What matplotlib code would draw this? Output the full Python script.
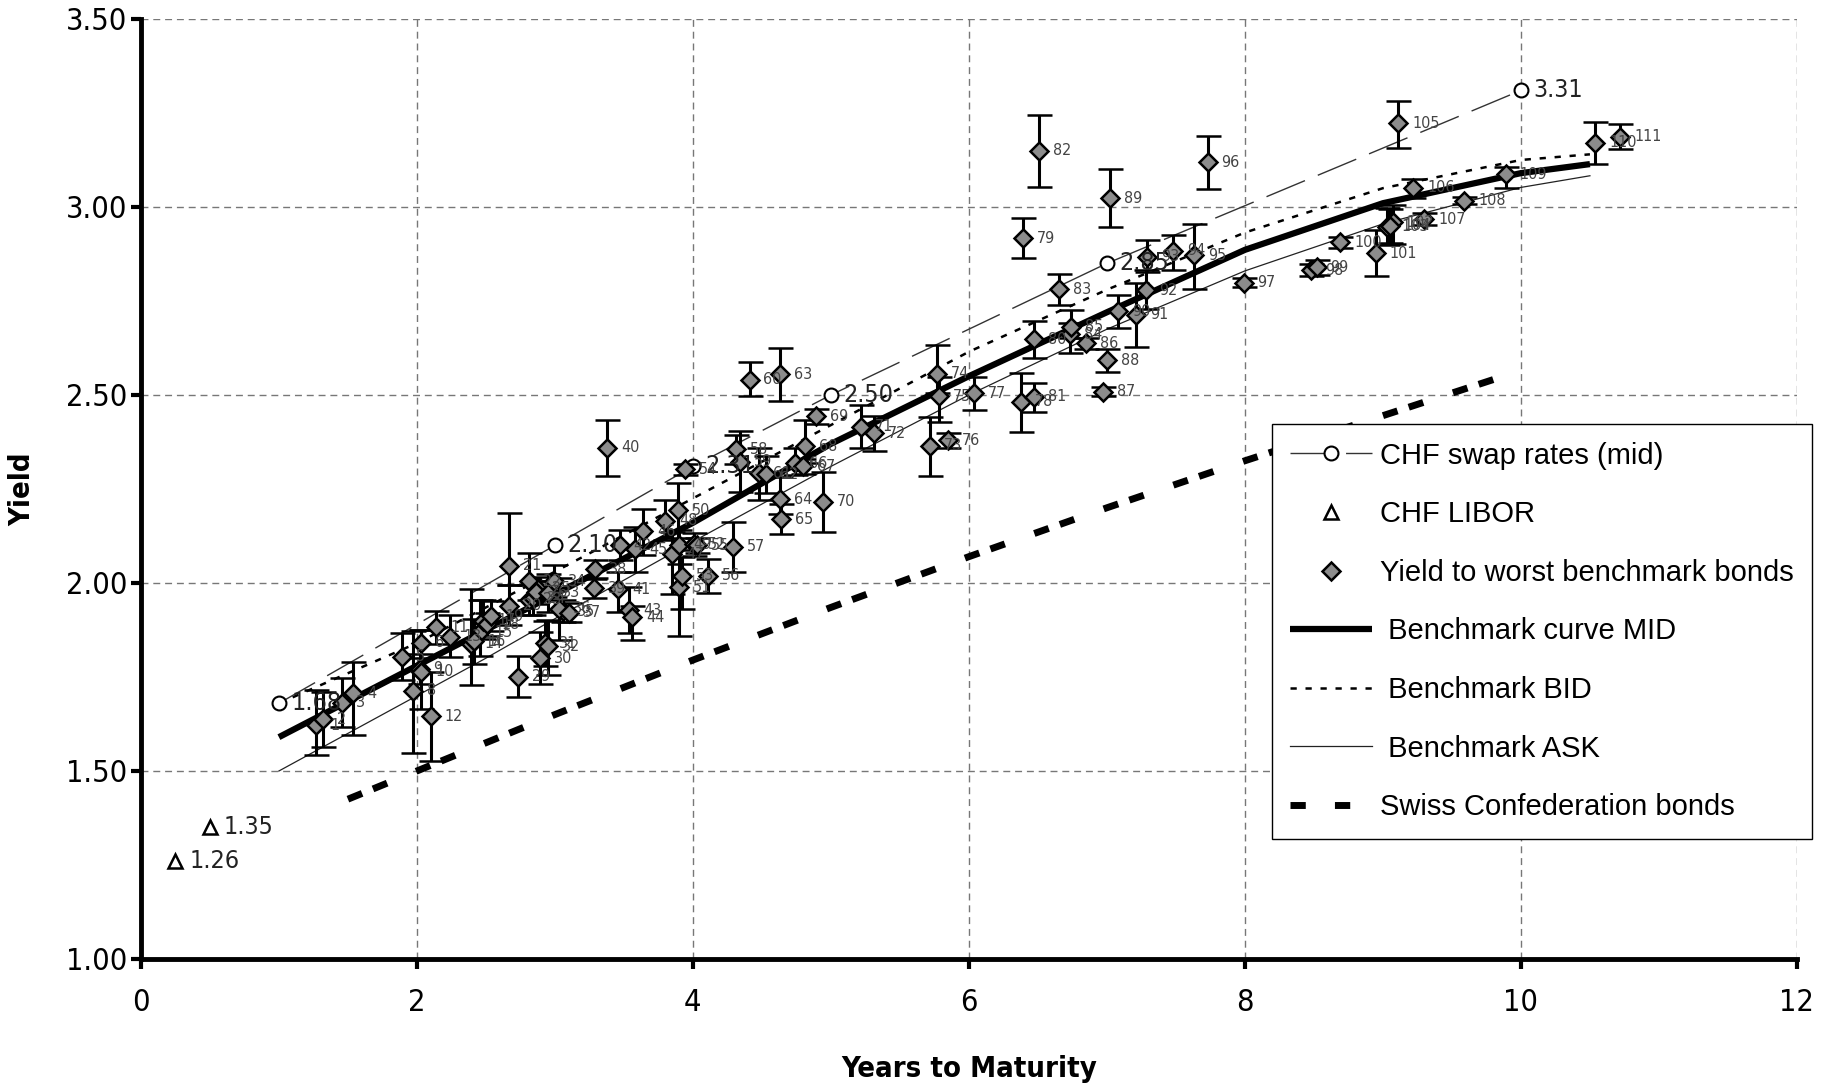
import matplotlib.pyplot as plt
from matplotlib.lines import Line2D

plt.rcParams['font.family'] = ['Liberation Sans Narrow', 'DejaVu Sans']
plt.rcParams['font.stretch'] = 'condensed'

# CHF swap rates (mid) and LIBOR
swap_x = [1, 3, 4, 5, 7, 10]
swap_y = [1.68, 2.10, 2.31, 2.50, 2.85, 3.31]
libor_x = [0.25, 0.5]
libor_y = [1.26, 1.35]

# benchmark curves
curve_x = [1, 1.5, 2, 2.5, 3, 4, 5, 6, 7, 8, 9, 10, 10.5]
mid_y = [1.59, 1.685, 1.78, 1.875, 1.97, 2.16, 2.37, 2.55, 2.72, 2.886, 3.01, 3.09, 3.114]
bid_y = [1.68, 1.76, 1.84, 1.935, 2.03, 2.225, 2.42, 2.615, 2.78, 2.932, 3.05, 3.125, 3.14]
ask_y = [1.50, 1.60, 1.70, 1.80, 1.905, 2.11, 2.31, 2.50, 2.675, 2.83, 2.955, 3.052, 3.083]

# Swiss Confederation bonds
conf_x = [1.5, 2, 3, 4, 5, 6, 7, 8, 9, 10]
conf_y = [1.425, 1.50, 1.65, 1.795, 1.935, 2.07, 2.20, 2.325, 2.445, 2.565]

# yield to worst benchmark bonds: id, maturity, yield, error down, error up
bond_id = [1, 2, 3, 4, 5, 6, 8, 9, 10, 11, 12, 13, 14, 15, 16, 17, 18, 19, 20, 21,
           22, 23, 24, 25, 26, 29, 30, 31, 32, 33, 34, 35, 36, 37, 38, 39, 40, 41, 42, 43,
           44, 45, 46, 47, 48, 49, 50, 51, 52, 53, 54, 55, 56, 57, 58, 59, 60, 61, 62, 63,
           64, 65, 66, 67, 68, 69, 70, 71, 72, 73, 74, 75, 76, 77, 78, 79, 80, 81, 82, 83,
           84, 85, 86, 87, 88, 89, 90, 91, 92, 93, 94, 95, 96, 97, 98, 99, 100, 101, 102, 103,
           104, 105, 106, 107, 108, 109, 110, 111]
bond_x = [1.27, 1.32, 1.46, 1.54, 1.89, 2.03, 1.97, 2.02, 2.03, 2.14, 2.10, 2.24, 2.39, 2.46, 2.41, 2.48, 2.51, 2.54, 2.67, 2.67,
          2.81, 2.81, 2.84, 2.88, 2.86, 2.73, 2.89, 2.93, 2.95, 2.95, 2.99, 3.06, 3.03, 3.10, 3.29, 3.28, 3.38, 3.46, 3.47, 3.54,
          3.56, 3.58, 3.64, 3.85, 3.80, 3.90, 3.89, 3.90, 4.01, 3.92, 3.94, 4.03, 4.11, 4.29, 4.31, 4.34, 4.41, 4.48, 4.53, 4.63,
          4.63, 4.64, 4.74, 4.80, 4.81, 4.89, 4.94, 5.22, 5.31, 5.72, 5.77, 5.78, 5.85, 6.04, 6.38, 6.39, 6.47, 6.47, 6.51, 6.65,
          6.73, 6.74, 6.85, 6.97, 7.00, 7.02, 7.08, 7.21, 7.28, 7.29, 7.48, 7.63, 7.73, 7.99, 8.48, 8.52, 8.69, 8.95, 9.07, 9.03,
          9.05, 9.11, 9.22, 9.30, 9.59, 9.89, 10.54, 10.72]
bond_y = [1.622, 1.637, 1.682, 1.707, 1.804, 1.841, 1.713, 1.772, 1.764, 1.882, 1.646, 1.857, 1.838, 1.869, 1.845, 1.900, 1.890, 1.912, 1.940, 2.046,
          2.004, 1.955, 1.960, 1.985, 1.975, 1.751, 1.800, 1.840, 1.832, 1.974, 2.004, 1.925, 1.931, 1.921, 2.037, 1.986, 2.360, 1.983, 2.100, 1.928,
          1.909, 2.090, 2.138, 2.076, 2.165, 2.101, 2.194, 1.988, 2.103, 2.019, 2.302, 2.100, 2.019, 2.097, 2.356, 2.323, 2.540, 2.292, 2.289, 2.555,
          2.223, 2.170, 2.318, 2.311, 2.363, 2.444, 2.216, 2.416, 2.398, 2.365, 2.556, 2.497, 2.380, 2.505, 2.482, 2.917, 2.648, 2.495, 3.149, 2.781,
          2.661, 2.682, 2.637, 2.509, 2.593, 3.023, 2.722, 2.713, 2.779, 2.868, 2.883, 2.871, 3.119, 2.799, 2.832, 2.840, 2.906, 2.877, 2.959, 2.948,
          2.950, 3.223, 3.051, 2.968, 3.017, 3.087, 3.171, 3.187]
bond_lo = [0.080, 0.073, 0.064, 0.112, 0.062, 0.040, 0.165, 0.040, 0.100, 0.043, 0.120, 0.053, 0.109, 0.064, 0.060, 0.050, 0.030, 0.040, 0.051, 0.051,
           0.050, 0.040, 0.045, 0.030, 0.030, 0.055, 0.070, 0.060, 0.077, 0.050, 0.040, 0.030, 0.082, 0.025, 0.025, 0.025, 0.075, 0.060, 0.040, 0.062,
           0.060, 0.060, 0.064, 0.104, 0.050, 0.050, 0.075, 0.130, 0.030, 0.087, 0.015, 0.020, 0.046, 0.067, 0.040, 0.080, 0.042, 0.070, 0.050, 0.070,
           0.040, 0.040, 0.030, 0.020, 0.045, 0.020, 0.080, 0.058, 0.046, 0.080, 0.050, 0.068, 0.020, 0.044, 0.080, 0.053, 0.050, 0.040, 0.097, 0.042,
           0.050, 0.030, 0.015, 0.012, 0.031, 0.077, 0.044, 0.085, 0.050, 0.040, 0.050, 0.089, 0.070, 0.012, 0.015, 0.020, 0.015, 0.060, 0.057, 0.050,
           0.045, 0.065, 0.026, 0.015, 0.010, 0.036, 0.057, 0.033]
bond_hi = [0.093, 0.074, 0.065, 0.082, 0.064, 0.035, 0.160, 0.040, 0.110, 0.044, 0.118, 0.058, 0.146, 0.087, 0.060, 0.056, 0.030, 0.040, 0.055, 0.140,
           0.075, 0.040, 0.045, 0.030, 0.030, 0.055, 0.070, 0.060, 0.070, 0.050, 0.044, 0.030, 0.082, 0.025, 0.025, 0.025, 0.073, 0.047, 0.040, 0.062,
           0.030, 0.060, 0.058, 0.060, 0.056, 0.040, 0.071, 0.100, 0.030, 0.050, 0.015, 0.020, 0.044, 0.066, 0.038, 0.080, 0.047, 0.066, 0.050, 0.070,
           0.060, 0.040, 0.040, 0.020, 0.070, 0.020, 0.080, 0.058, 0.046, 0.076, 0.077, 0.050, 0.020, 0.042, 0.076, 0.053, 0.050, 0.038, 0.096, 0.041,
           0.030, 0.045, 0.015, 0.012, 0.028, 0.077, 0.044, 0.085, 0.053, 0.045, 0.042, 0.084, 0.070, 0.012, 0.015, 0.020, 0.015, 0.062, 0.047, 0.050,
           0.045, 0.059, 0.023, 0.015, 0.010, 0.020, 0.056, 0.033]

fig = plt.figure(figsize=(18.23, 10.90), dpi=100)
ax = fig.add_axes([0.0773, 0.1202, 0.9084, 0.8624])

h_swap, = ax.plot(swap_x, swap_y, color='#333333', lw=1.0, dashes=(30, 10), marker='o', ms=10,
                  mfc='white', mec='black', mew=1.5, zorder=4)
h_libor, = ax.plot(libor_x, libor_y, ls='none', marker='^', ms=10, mfc='white', mec='black',
                   mew=1.8, zorder=4)
ax.errorbar(bond_x, bond_y, yerr=[bond_lo, bond_hi], fmt='D', ms=9.5, mfc='#8c8c8c',
            mec='black', mew=1.8, ecolor='black', elinewidth=2.2, capsize=9,
            capthick=2.5, zorder=5)
h_mid, = ax.plot(curve_x, mid_y, color='black', lw=4.5, solid_capstyle='butt', zorder=3)
h_bid, = ax.plot(curve_x, bid_y, color='black', lw=1.8, dashes=(2.5, 3.5), zorder=3)
h_ask, = ax.plot(curve_x, ask_y, color='#222222', lw=0.9, zorder=3)
ax.plot(conf_x, conf_y, color='black', lw=5, dashes=(2.2, 1.7, 2.2, 4.5), zorder=3)

# legend-only handles
h_bond = Line2D([], [], ls='none', marker='D', ms=9.5, mfc='#8c8c8c', mec='black', mew=1.8)
h_conf = Line2D([], [], color='black', lw=5, dashes=(2.2, 4.2))

for x, y in zip(swap_x, swap_y):
    ax.annotate(f'{y:.2f}', (x, y), xytext=(9, 0), textcoords='offset points',
                ha='left', va='center', fontsize=18, color='#222222', zorder=6)
for x, y in zip(libor_x, libor_y):
    ax.annotate(f'{y:.2f}', (x, y), xytext=(10, 0), textcoords='offset points',
                ha='left', va='center', fontsize=18, color='#222222', zorder=6)
for i, x, y in zip(bond_id, bond_x, bond_y):
    ax.annotate(str(i), (x, y), xytext=(10, 0), textcoords='offset points',
                ha='left', va='center', fontsize=11.5, color='#444444', zorder=6)

ax.set_xlim(0, 12)
ax.set_ylim(1.0, 3.5)
ax.set_xticks(range(0, 13, 2))
ax.set_yticks([1.0, 1.5, 2.0, 2.5, 3.0, 3.5])
ax.set_yticklabels([f'{v:.2f}' for v in [1.0, 1.5, 2.0, 2.5, 3.0, 3.5]])
ax.tick_params(direction='out', length=7, width=3, labelsize=22, pad=3)
ax.tick_params(axis='x', pad=14)
ax.grid(True, color='#777777', lw=1.0, linestyle=(0, (5, 3.5)))
ax.set_axisbelow(True)
for s in ['top', 'right']:
    ax.spines[s].set_visible(False)
for s in ['left', 'bottom']:
    ax.spines[s].set_linewidth(3.5)

ax.set_xlabel('Years to Maturity', fontsize=21, fontweight='bold')
ax.set_ylabel('Yield', fontsize=21, fontweight='bold')
ax.xaxis.set_label_coords(0.5, -0.102)
ax.yaxis.set_label_coords(-0.063, 0.5)

leg = ax.legend([h_swap, h_libor, h_bond, h_mid, h_bid, h_ask, h_conf],
                ['CHF swap rates (mid)', 'CHF LIBOR', 'Yield to worst benchmark bonds',
                 ' Benchmark curve MID', ' Benchmark BID', ' Benchmark ASK',
                 'Swiss Confederation bonds'],
                loc='upper left', bbox_to_anchor=(0.698, 0.611), bbox_transform=fig.transFigure,
                borderaxespad=0, frameon=True, fancybox=False, framealpha=1,
                edgecolor='black', handlelength=2.8, handletextpad=0.3, labelspacing=1.05,
                borderpad=0.6,
                prop={'family': ['Liberation Sans', 'DejaVu Sans'], 'stretch': 'normal', 'size': 21})
leg.get_frame().set_linewidth(1.0)
leg.set_zorder(10)

fig.savefig('out.png', dpi=100)
